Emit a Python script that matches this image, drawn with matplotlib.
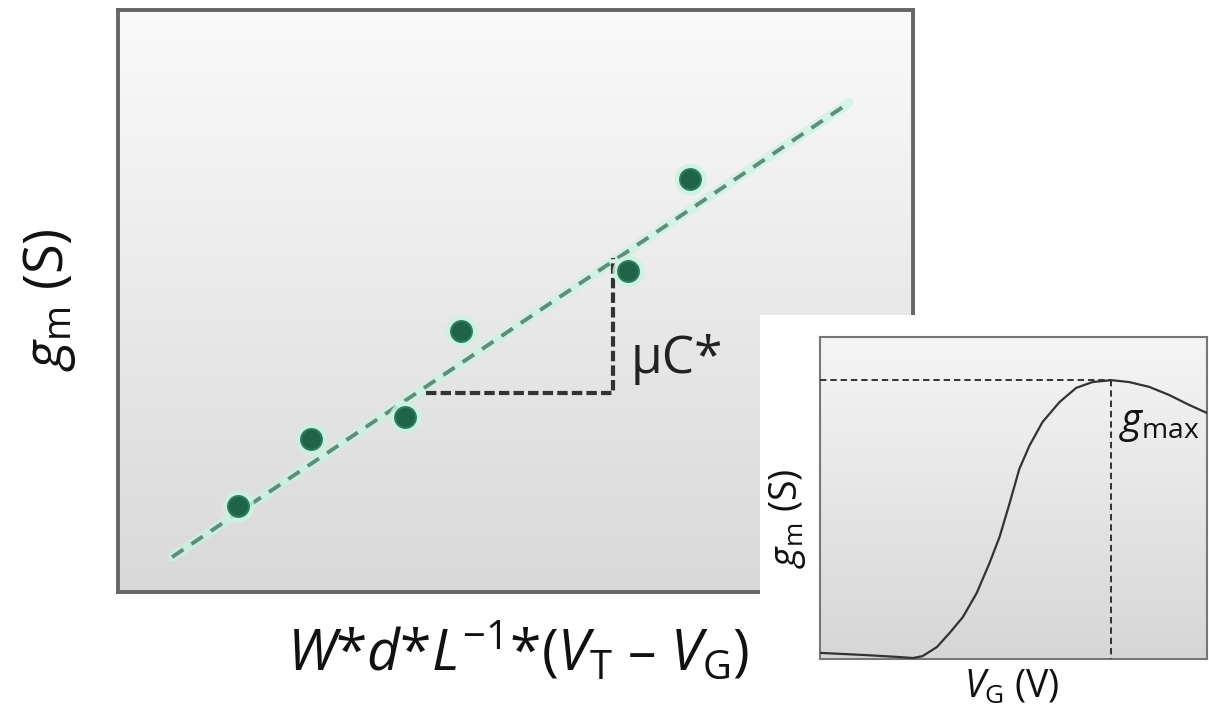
import matplotlib.pyplot as plt
import numpy as np

plt.rcParams['font.family'] = ['Open Sans', 'DejaVu Sans']
plt.rcParams['mathtext.fontset'] = 'custom'
plt.rcParams['mathtext.rm'] = 'Open Sans'
plt.rcParams['mathtext.it'] = 'Open Sans:italic'

# main panel: measured points and fitted line
x_pts = [1.51, 2.43, 3.61, 4.31, 6.42, 7.20]
y_pts = [1.48, 2.63, 3.01, 4.48, 5.52, 7.10]
fit_x = [0.68, 9.19]
fit_y = [0.60, 8.40]
# slope triangle
tri_x = [3.87, 6.23, 6.23]
tri_y = [3.42, 3.42, 5.74]

# inset: transconductance vs gate voltage
vg = [0.0, 1.21, 2.06, 2.40, 2.65, 3.02, 3.35, 3.69, 4.05, 4.38, 4.64, 4.90,
      5.15, 5.41, 5.75, 6.19, 6.62, 7.04, 7.53, 7.99, 8.51, 9.02, 9.54, 10.0]
gm = [0.19, 0.12, 0.06, 0.03, 0.09, 0.37, 0.81, 1.30, 2.05, 2.98, 3.79, 4.84,
      5.90, 6.62, 7.36, 7.98, 8.42, 8.60, 8.66, 8.60, 8.45, 8.20, 7.89, 7.64]
vg_peak = 7.53
gm_peak = 8.66

W, H = 1209, 718
fig = plt.figure(figsize=(W / 100, H / 100), dpi=100)


def grad_bg(ax, top, bottom):
    g = np.linspace(top, bottom, 256).reshape(-1, 1)
    ax.imshow(np.dstack([g, g, g]), extent=[0, 10, 0, 10], aspect='auto',
              zorder=0, interpolation='bilinear')


ax = fig.add_axes([118 / W, 1 - 592 / H, 795 / W, 582 / H])
grad_bg(ax, 0.98, 0.85)
ax.set_xlim(0, 10)
ax.set_ylim(0, 10)
ax.set_xticks([])
ax.set_yticks([])
for s in ax.spines.values():
    s.set_color('#666666')
    s.set_linewidth(2.8)

ax.plot(fit_x, fit_y, color='#c9f3e2', lw=7, alpha=0.7, zorder=2, solid_capstyle='round')
ax.plot(fit_x, fit_y, color='#5e8d7a', lw=2.8, dashes=(3.5, 2.5), zorder=3)
ax.plot(tri_x, tri_y, color='#333333', lw=3, dashes=(2.5, 1), zorder=3)
ax.plot(x_pts, y_pts, 'o', ms=23, color='#c9f3e2', alpha=0.8, zorder=4, mec='none')
ax.plot(x_pts, y_pts, 'o', ms=15, color='#1f6448', mec='#2b7d5b', mew=1.5, zorder=5)
ax.text(6.45, 4.0, 'μC*', fontsize=37, color='#222222', va='center', ha='left')

fig.text(50 / W, 1 - 300 / H, r'$g_\mathrm{m}$ (S)', rotation=90, fontsize=39,
         ha='center', va='center', color='#111111')
fig.text(518 / W, 1 - 652 / H, r'$W$*$d$*$L^{\mathrm{-1}}$*($V_\mathrm{T}$ – $V_\mathrm{G}$)',
         fontsize=41, ha='center', va='center', color='#111111')

# white patch behind inset
patch = fig.add_axes([760 / W, 0, (W - 760) / W, (H - 315) / H])
patch.set_facecolor('white')
patch.set_xticks([])
patch.set_yticks([])
for s in patch.spines.values():
    s.set_visible(False)

ins = fig.add_axes([820 / W, 1 - 659 / H, 387 / W, 322 / H])
grad_bg(ins, 0.96, 0.84)
ins.set_xlim(0, 10)
ins.set_ylim(0, 10)
ins.set_xticks([])
ins.set_yticks([])
for s in ins.spines.values():
    s.set_color('#777777')
    s.set_linewidth(1.5)
ins.plot(vg, gm, color='#333333', lw=1.6, zorder=3)
ins.plot([0, vg_peak], [gm_peak, gm_peak], color='#333333', lw=1.4, dashes=(3.3, 2), zorder=3)
ins.plot([vg_peak, vg_peak], [gm_peak, 0], color='#333333', lw=1.4, dashes=(3.3, 2), zorder=3)
ins.text(7.72, 7.3, r'$g_\mathrm{max}$', fontsize=29, va='center', ha='left', color='#111111')

fig.text(788 / W, 1 - 518 / H, r'$g_\mathrm{m}$ (S)', rotation=90, fontsize=27,
         ha='center', va='center', color='#111111')
fig.text(1012 / W, 1 - 688 / H, r'$V_\mathrm{G}$ (V)', fontsize=27,
         ha='center', va='center', color='#111111')

fig.savefig('out.png', dpi=100)
